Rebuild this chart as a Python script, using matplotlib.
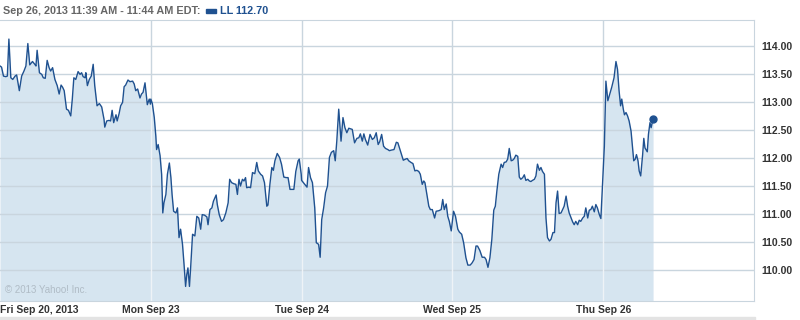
import numpy as np
import matplotlib
matplotlib.use("Agg")
import matplotlib.pyplot as plt
from matplotlib.patches import Rectangle

plt.rcParams["font.family"] = ["Liberation Sans", "DejaVu Sans"]

# minutes after the 9:30 open, and price, one pair of lists per session
fri_t = [0, 4, 9, 15, 19, 23, 28, 33, 39, 43, 50, 56, 62, 67, 72, 77, 84, 90, 93, 96,
         102, 108, 112, 117, 122, 127, 131, 136, 142, 148, 153, 158, 162, 166, 172, 177,
         183, 187, 191, 196, 202, 207, 211, 215, 220, 222, 226, 231, 236, 241, 245, 251,
         257, 263, 269, 271, 276, 282, 286, 290, 294, 300, 303, 308, 312, 317, 321, 325,
         331, 336, 343, 347, 351, 356, 362, 366, 370, 375, 381, 386, 389]
fri_p = [113.64, 113.62, 113.46, 113.45, 113.46, 114.12, 113.43, 113.40, 113.46, 113.48,
         113.20, 113.46, 113.55, 113.64, 114.04, 113.66, 113.72, 113.67, 113.64, 113.92,
         113.52, 113.49, 113.43, 113.42, 113.74, 113.61, 113.55, 113.61, 113.40, 113.29,
         113.14, 113.30, 113.26, 113.20, 112.87, 112.85, 112.75, 113.05, 113.43, 113.40,
         113.54, 113.49, 113.52, 113.45, 113.43, 113.52, 113.29, 113.40, 113.46, 113.67,
         113.29, 112.93, 112.97, 112.91, 112.69, 112.55, 112.66, 112.67, 112.66, 112.85,
         112.63, 112.77, 112.66, 112.79, 112.93, 112.99, 113.27, 113.30, 113.39, 113.36,
         113.37, 113.32, 113.20, 113.23, 113.07, 113.14, 113.17, 113.34, 112.95, 113.05,
         112.96]

mon_t = [0, 4, 9, 13, 15, 19, 24, 28, 31, 34, 39, 43, 48, 52, 55, 59, 65, 69, 73, 77,
         82, 86, 90, 93, 96, 100, 103, 108, 114, 119, 124, 129, 133, 139, 145, 148, 153,
         158, 162, 169, 172, 177, 183, 188, 194, 200, 204, 209, 215, 220, 224, 228, 232,
         237, 241, 245, 248, 254, 258, 263, 269, 274, 278, 284, 289, 294, 300, 303, 308,
         313, 317, 321, 327, 333, 338, 344, 350, 355, 360, 366, 370, 375, 381, 384, 389]
mon_p = [113.05, 112.97, 112.72, 112.39, 112.15, 112.24, 112.04, 111.71, 111.02, 111.20,
         111.35, 111.71, 111.91, 111.65, 111.35, 111.05, 111.02, 111.11, 110.58, 110.73,
         110.46, 110.10, 109.71, 109.92, 110.04, 109.71, 110.04, 110.64, 110.61, 110.96,
         110.93, 110.73, 110.99, 110.98, 110.95, 110.81, 111.08, 111.11, 111.23, 111.34,
         111.17, 110.99, 110.87, 110.90, 111.02, 111.20, 111.62, 111.56, 111.54, 111.53,
         111.35, 111.62, 111.50, 111.62, 111.59, 111.65, 111.47, 111.48, 111.47, 111.74,
         111.72, 111.92, 111.77, 111.71, 111.68, 111.56, 111.14, 111.16, 111.53, 111.83,
         111.78, 111.95, 112.08, 112.01, 111.89, 111.66, 111.65, 111.65, 111.44, 111.44,
         111.44, 111.76, 111.95, 111.98, 111.71]

tue_t = [0, 8, 14, 18, 23, 28, 34, 38, 44, 48, 52, 57, 62, 67, 72, 77, 83, 87, 91, 96,
         102, 107, 112, 117, 122, 131, 137, 143, 148, 152, 157, 161, 165, 171, 177, 183,
         188, 193, 198, 202, 207, 212, 217, 223, 227, 232, 239, 245, 249, 253, 259, 263,
         269, 273, 277, 283, 288, 293, 298, 303, 307, 312, 316, 319, 324, 329, 333, 338,
         344, 348, 355, 361, 365, 369, 374, 378, 382, 387]
tue_p = [111.60, 111.53, 111.48, 111.83, 111.65, 111.56, 111.11, 110.49, 110.46, 110.23,
         110.90, 111.11, 111.38, 111.50, 112.01, 112.10, 112.13, 111.95, 112.30, 112.87,
         112.30, 112.72, 112.54, 112.45, 112.53, 112.51, 112.27, 112.35, 112.36, 112.43,
         112.30, 112.43, 112.33, 112.23, 112.42, 112.33, 112.36, 112.45, 112.24, 112.29,
         112.42, 112.21, 112.17, 112.15, 112.13, 112.14, 112.15, 112.28, 112.27, 112.18,
         112.04, 111.96, 111.98, 111.99, 111.95, 111.92, 111.90, 111.77, 111.78, 111.76,
         111.71, 111.53, 111.59, 111.56, 111.35, 111.14, 111.08, 111.08, 110.93, 111.05,
         111.06, 111.08, 111.26, 111.08, 111.18, 110.96, 110.87, 110.70]

wed_t = [3, 8, 14, 18, 24, 29, 35, 40, 46, 51, 56, 61, 65, 71, 77, 83, 87, 92, 97, 102,
         107, 111, 115, 120, 126, 130, 134, 139, 143, 147, 152, 156, 160, 164, 169, 173,
         177, 182, 186, 190, 195, 199, 203, 207, 212, 216, 220, 225, 229, 233, 238, 242,
         246, 251, 255, 260, 264, 268, 272, 276, 281, 285, 289, 294, 298, 302, 307, 311,
         315, 319, 324, 328, 332, 337, 341, 345, 350, 354, 358, 362, 367, 371, 375, 380,
         384]
wed_p = [111.05, 110.96, 110.73, 110.68, 110.64, 110.49, 110.22, 110.09, 110.09, 110.13,
         110.19, 110.43, 110.43, 110.35, 110.23, 110.23, 110.19, 110.05, 110.22, 110.55,
         111.07, 111.14, 111.41, 111.71, 111.89, 111.83, 111.92, 111.93, 111.98, 112.17,
         111.95, 111.96, 111.99, 112.05, 112.03, 111.66, 111.62, 111.65, 111.70, 111.60,
         111.62, 111.59, 111.58, 111.60, 111.62, 111.68, 111.89, 111.78, 111.83, 111.76,
         111.71, 110.93, 110.58, 110.52, 110.55, 110.67, 110.67, 111.20, 111.41, 111.01,
         111.02, 111.08, 111.14, 111.32, 111.14, 111.02, 110.93, 110.86, 110.81, 110.87,
         110.81, 110.89, 110.87, 110.93, 110.96, 111.11, 110.93, 111.07, 111.08, 111.14,
         111.04, 111.17, 111.11, 110.99, 110.92]

thu_t = [3, 7, 12, 17, 22, 28, 33, 37, 41, 45, 48, 52, 55, 59, 63, 67, 72, 76, 79, 83,
         86, 90, 93, 97, 102, 105, 108, 114, 117, 121, 124, 129]
thu_p = [112.21, 113.37, 113.02, 113.14, 113.26, 113.43, 113.72, 113.58, 113.20, 112.93,
         113.05, 112.87, 112.77, 112.81, 112.75, 112.66, 112.48, 112.18, 111.95, 111.98,
         112.06, 111.95, 111.77, 111.68, 112.06, 112.35, 112.18, 112.11, 112.42, 112.63,
         112.54, 112.70]

day_labels = ["Fri Sep 20, 2013", "Mon Sep 23", "Tue Sep 24", "Wed Sep 25", "Thu Sep 26"]
y_ticks = [110.0, 110.5, 111.0, 111.5, 112.0, 112.5, 113.0, 113.5, 114.0]
ticker = "LL"
header = "Sep 26, 2013 11:39 AM - 11:44 AM EDT:"

SESSION = 390.0
LINE = "#1f5190"
FILL = "#d6e5f0"
GRID = "#c9d5de"

days_t = [fri_t, mon_t, tue_t, wed_t, thu_t]
days_p = [fri_p, mon_p, tue_p, wed_p, thu_p]
x = np.concatenate([d + np.array(t) / SESSION for d, t in enumerate(days_t)])
y = np.concatenate([np.array(p) for p in days_p])

fig = plt.figure(figsize=(8, 3.2), dpi=100)
ax = fig.add_axes([0.0, 19 / 320, 754 / 800, 281 / 320])
ymin, ymax = 109.45, 114.46
ax.set_xlim(0, 5)
ax.set_ylim(ymin, ymax)

# day separators: grey on white, whitish where they cross the filled area
for d in range(1, 5):
    ax.axvline(d, color=GRID, lw=1, zorder=0.5)
area = ax.fill_between(x, ymin, y, color=FILL, lw=0, zorder=1)
for v in y_ticks:
    ax.axhline(v, color=GRID, lw=1, zorder=2)
for d in range(1, 5):
    vl = ax.axvline(d, color="#eef3f7", lw=1, zorder=2.5)
    vl.set_clip_path(area.get_paths()[0], transform=ax.transData)
ax.plot(x, y, color=LINE, lw=1.0, zorder=3)
ax.plot(x[-1], y[-1], "o", color=LINE, ms=5, zorder=4)

for s in ax.spines.values():
    s.set_color(GRID)
ax.spines["left"].set_visible(False)

ax.yaxis.tick_right()
ax.set_yticks(y_ticks)
ax.set_yticklabels([f"{v:.2f}" for v in y_ticks], fontsize=7.5, fontweight="bold", color="#333333")
ax.tick_params(axis="y", length=0, pad=5)
ax.set_xticks([])

# day labels below the axis
for d, lab in enumerate(day_labels):
    ha = "left" if d == 0 else "center"
    xp = 0.003 if d == 0 else d
    ax.text(xp, -0.033, lab, transform=ax.get_xaxis_transform(), ha=ha, va="center",
            fontsize=7.5, fontweight="bold", color="#333333")

ax.text(0.006, 0.02, "\u00a9 2013 Yahoo! Inc.", transform=ax.transAxes, fontsize=7,
        color="#b0bcc6", ha="left", va="bottom", zorder=5)

# header line
fig.text(3 / 800, 1 - 11 / 320, header, fontsize=7.8, fontweight="bold", color="#666666",
         ha="left", va="center")
fig.patches.append(Rectangle((206 / 800, 1 - 13 / 320), 10 / 800, 4 / 320,
                             transform=fig.transFigure, color=LINE))
fig.text(220 / 800, 1 - 11 / 320, f"{ticker} {y[-1]:.2f}", fontsize=7.8, fontweight="bold",
         color=LINE, ha="left", va="center")

# thin grey band along the bottom edge
fig.patches.append(Rectangle((0, 0), 755 / 800, 3 / 320, transform=fig.transFigure,
                             color="#e3e3e3"))

fig.savefig("out.png", dpi=100)
